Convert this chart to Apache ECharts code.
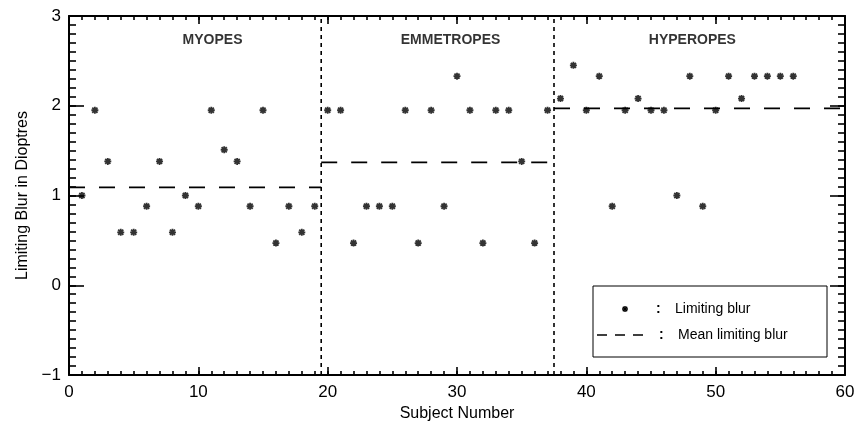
<!DOCTYPE html>
<html><head><meta charset="utf-8">
<script src="https://cdn.jsdelivr.net/npm/echarts@6/dist/echarts.min.js"></script>
<style>html,body{margin:0;padding:0;background:#fff}#c{width:858px;height:423px}</style>
</head><body><div id="c"></div>
<script>
// ---- data ----
const groupNames = ['MYOPES', 'EMMETROPES', 'HYPEROPES'];
const groupLabelX = [11.1, 29.5, 48.2];
const groupLabelY = 2.73;
const groupBounds = [0, 19.5, 37.5, 60];
const myopeSubjects = [1,2,3,4,5,6,7,8,9,10,11,12,13,14,15,16,17,18,19];
const myopeBlur = [1.00,1.95,1.38,0.59,0.59,0.88,1.38,0.59,1.00,0.88,1.95,1.51,1.38,0.88,1.95,0.47,0.88,0.59,0.88];
const emmetropeSubjects = [20,21,22,23,24,25,26,27,28,29,30,31,32,33,34,35,36,37];
const emmetropeBlur = [1.95,1.95,0.47,0.88,0.88,0.88,1.95,0.47,1.95,0.88,2.33,1.95,0.47,1.95,1.95,1.38,0.47,1.95];
const hyperopeSubjects = [38,39,40,41,42,43,44,45,46,47,48,49,50,51,52,53,54,55,56];
const hyperopeBlur = [2.08,2.45,1.95,2.33,0.88,1.95,2.08,1.95,1.95,1.00,2.33,0.88,1.95,2.33,2.08,2.33,2.33,2.33,2.33];
const meanBlur = [1.09, 1.37, 1.97];
const xTicks = [0,10,20,30,40,50,60];
const yTicks = [-1,0,1,2,3];
const legendLabels = ['Limiting blur', 'Mean limiting blur'];

const FONT = 'Liberation Sans';
const star = 'path://M0,3L6,3M3,0L3,6M0.8,0.8L5.2,5.2M5.2,0.8L0.8,5.2';

const points = [];
[[myopeSubjects, myopeBlur],[emmetropeSubjects, emmetropeBlur],[hyperopeSubjects, hyperopeBlur]].forEach(([s, v]) => {
  s.forEach((x, i) => points.push([x, v[i]]));
});

const series = [];
series.push({
  type: 'scatter', name: legendLabels[0], data: points, symbol: star, symbolSize: 7,
  itemStyle: { color: 'none', borderColor: '#000', borderWidth: 1.8 }, z: 5, silent: true
});
meanBlur.forEach((m, i) => {
  series.push({
    type: 'line', name: legendLabels[1], data: [[groupBounds[i], m], [groupBounds[i+1], m]],
    symbol: 'none', lineStyle: { color: '#000', width: 1.8, type: [16, 14] }, silent: true
  });
});
[groupBounds[1], groupBounds[2]].forEach(b => {
  series.push({
    type: 'line', data: [[b, yTicks[0]], [b, yTicks[yTicks.length-1]]],
    symbol: 'none', lineStyle: { color: '#000', width: 1.6, type: [4, 4] }, silent: true
  });
});
series.push({
  type: 'scatter', data: groupNames.map((n, i) => ({ value: [groupLabelX[i], groupLabelY], name: n })),
  symbolSize: 0, silent: true,
  label: { show: true, position: 'inside', formatter: p => p.name, color: '#000',
    fontFamily: FONT, fontWeight: 'bold', fontSize: 14 }
});

const minus = v => String(v).replace('-', '\u2212');
const xMin = xTicks[0], xMax = xTicks[xTicks.length-1];
const yMin = yTicks[0], yMax = yTicks[yTicks.length-1];

function mkAxis(type, pos, interval, len, showLine, extra) {
  return Object.assign({
    type: 'value', position: pos, interval: interval,
    min: type === 'x' ? xMin : yMin, max: type === 'x' ? xMax : yMax,
    axisLine: { show: showLine, onZero: false, lineStyle: { color: '#000', width: 2 } },
    axisTick: { show: true, inside: true, length: len, lineStyle: { color: '#000', width: 1.6 } },
    axisLabel: { show: false }, splitLine: { show: false }
  }, extra || {});
}

const chart = echarts.init(document.getElementById('c'), null, { renderer: 'canvas' });
const sx = 622, sy = 306;
chart.setOption({
  animation: false,
  backgroundColor: '#fff',
  grid: { left: 69, right: 13, top: 16, bottom: 48, containLabel: false, outerBoundsMode: 'none' },
  xAxis: [
    mkAxis('x', 'bottom', 10, 8, true, {
      name: 'Subject Number', nameLocation: 'middle', nameGap: 29,
      nameTextStyle: { fontFamily: FONT, fontSize: 16, color: '#000' },
      axisLabel: { show: true, color: '#000', fontFamily: FONT, fontSize: 17, margin: 9, formatter: minus } }),
    mkAxis('x', 'top', 10, 8, true),
    mkAxis('x', 'bottom', 1, 4, false),
    mkAxis('x', 'top', 1, 4, false)
  ],
  yAxis: [
    mkAxis('y', 'left', 1, 15, true, {
      name: 'Limiting Blur in Dioptres', nameLocation: 'middle', nameGap: 38,
      nameTextStyle: { fontFamily: FONT, fontSize: 16, color: '#000' },
      axisLabel: { show: true, color: '#000', fontFamily: FONT, fontSize: 17, margin: 8, formatter: minus } }),
    mkAxis('y', 'right', 1, 15, true),
    mkAxis('y', 'left', 0.1, 7, false),
    mkAxis('y', 'right', 0.1, 7, false)
  ],
  series: series,
  graphic: [
    { type: 'rect', shape: { x: 593, y: 286, width: 234, height: 71 }, style: { fill: '#fff', stroke: '#000', lineWidth: 1 }, z: 10 },
    { type: 'line', shape: { x1: sx, y1: sy + 3, x2: sx + 6, y2: sy + 3 }, style: { stroke: '#000', lineWidth: 1.5 }, z: 11 },
    { type: 'line', shape: { x1: sx + 3, y1: sy, x2: sx + 3, y2: sy + 6 }, style: { stroke: '#000', lineWidth: 1.5 }, z: 11 },
    { type: 'line', shape: { x1: sx + 0.8, y1: sy + 0.8, x2: sx + 5.2, y2: sy + 5.2 }, style: { stroke: '#000', lineWidth: 1.5 }, z: 11 },
    { type: 'line', shape: { x1: sx + 5.2, y1: sy + 0.8, x2: sx + 0.8, y2: sy + 5.2 }, style: { stroke: '#000', lineWidth: 1.5 }, z: 11 },
    { type: 'text', x: 656, y: 309, style: { text: ':', font: 'bold 14px ' + FONT, fill: '#000', verticalAlign: 'middle' }, z: 11 },
    { type: 'text', x: 675, y: 309, style: { text: legendLabels[0], font: '14px ' + FONT, fill: '#000', verticalAlign: 'middle' }, z: 11 },
    { type: 'line', shape: { x1: 597, y1: 335, x2: 644, y2: 335 }, style: { stroke: '#000', lineWidth: 1.6, lineDash: [10, 8] }, z: 11 },
    { type: 'text', x: 659, y: 335, style: { text: ':', font: 'bold 14px ' + FONT, fill: '#000', verticalAlign: 'middle' }, z: 11 },
    { type: 'text', x: 678, y: 335, style: { text: legendLabels[1], font: '14px ' + FONT, fill: '#000', verticalAlign: 'middle' }, z: 11 }
  ]
});
</script></body></html>
